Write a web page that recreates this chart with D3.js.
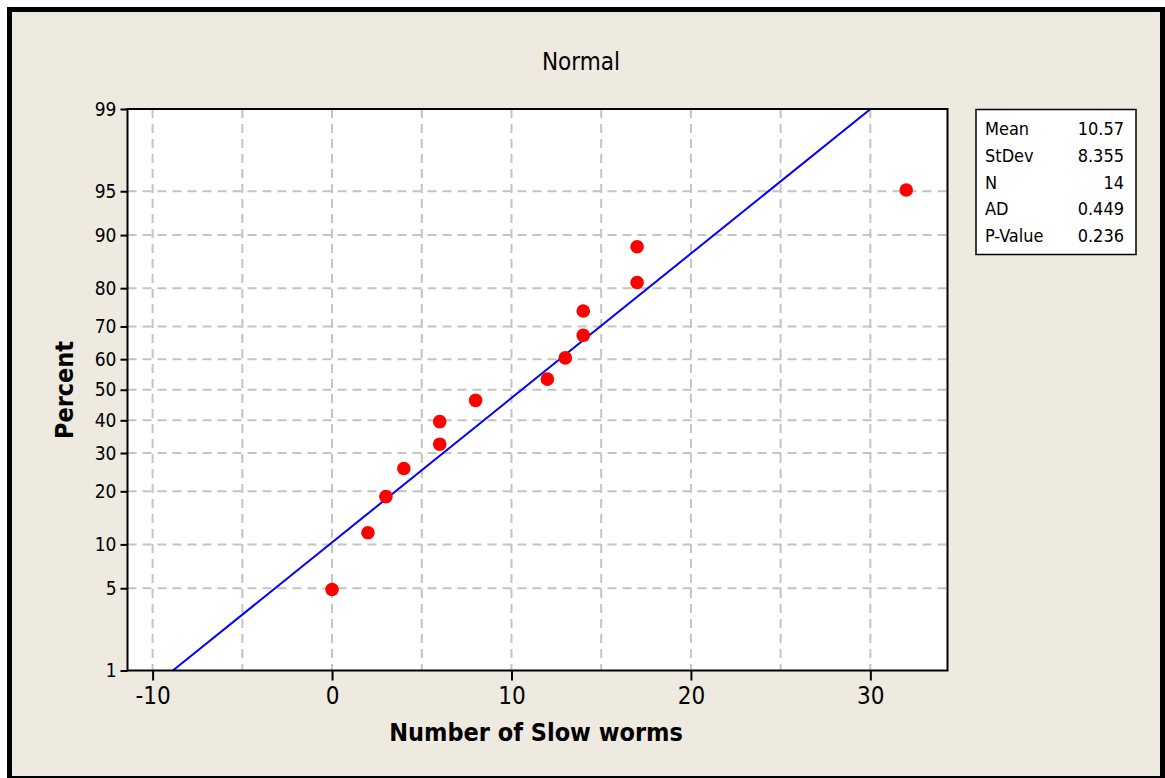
<!DOCTYPE html>
<html>
<head>
<meta charset="utf-8">
<script src="https://cdn.jsdelivr.net/npm/d3@7"></script>
<style>
  body { margin: 0; background: #fff; }
  text { font-family: 'DejaVu Sans Condensed', 'Liberation Sans', sans-serif; fill: #000; }
</style>
</head>
<body>
<div id="chart"></div>
<script>
// sorted sample values and their plotted percentages
const slowWorms = [0, 2, 3, 4, 6, 6, 8, 12, 13, 14, 14, 17, 17, 32];
const percents = [4.9, 11.8, 18.8, 25.7, 32.6, 39.6, 46.5, 53.5, 60.4, 67.4, 74.3, 81.3, 88.2, 95.1];

// fitted normal line end points
const fitX = [-8.87, 30.01];
const fitP = [1, 99];

const xTicks = [-10, 0, 10, 20, 30];
const xGrid = [-10, -5, 0, 5, 10, 15, 20, 25, 30];
const yTicks = [1, 5, 10, 20, 30, 40, 50, 60, 70, 80, 90, 95, 99];
const yGrid = [5, 10, 20, 30, 40, 50, 60, 70, 80, 90, 95];

const statLabels = ["Mean", "StDev", "N", "AD", "P-Value"];
const statValues = ["10.57", "8.355", "14", "0.449", "0.236"];

// inverse normal cdf (Acklam)
function probit(p) {
  var a = [-3.969683028665376e+01, 2.209460984245205e+02, -2.759285104469687e+02, 1.383577518672690e+02, -3.066479806614716e+01, 2.506628277459239e+00];
  var b = [-5.447609879822406e+01, 1.615858368580409e+02, -1.556989798598866e+02, 6.680131188771972e+01, -1.328068155288572e+01];
  var c = [-7.784894002430293e-03, -3.223964580411365e-01, -2.400758277161838e+00, -2.549671348727573e+00, 4.374664141464968e+00, 2.938163982698783e+00];
  var d = [7.784695709041462e-03, 3.224671290700398e-01, 2.445134137142996e+00, 3.754408661907416e+00];
  var pl = 0.02425, q, r;
  if (p < pl) {
    q = Math.sqrt(-2 * Math.log(p));
    return (((((c[0]*q+c[1])*q+c[2])*q+c[3])*q+c[4])*q+c[5]) / ((((d[0]*q+d[1])*q+d[2])*q+d[3])*q+1);
  }
  if (p > 1 - pl) {
    q = Math.sqrt(-2 * Math.log(1 - p));
    return -(((((c[0]*q+c[1])*q+c[2])*q+c[3])*q+c[4])*q+c[5]) / ((((d[0]*q+d[1])*q+d[2])*q+d[3])*q+1);
  }
  q = p - 0.5; r = q * q;
  return (((((a[0]*r+a[1])*r+a[2])*r+a[3])*r+a[4])*r+a[5])*q / (((((b[0]*r+b[1])*r+b[2])*r+b[3])*r+b[4])*r+1);
}

var W = 1165, H = 778;
var plotL = 127.5, plotR = 947.5, plotT = 109, plotB = 670.5;

var svg = d3.select("#chart").append("svg")
  .attr("width", W)
  .attr("height", H);

/* frame */
svg.append("rect").attr("x", 7).attr("y", 7).attr("width", W - 7).attr("height", H - 7).attr("fill", "#000");
svg.append("rect").attr("x", 12).attr("y", 12).attr("width", 1148).attr("height", 764).attr("fill", "#EEEAE0");

/* scales */
var x = d3.scaleLinear().domain([-11.4, 34.3]).range([plotL, plotR]);
var yZ = d3.scaleLinear().domain([probit(0.01), probit(0.99)]).range([plotB, plotT]);
var y = p => yZ(probit(p / 100));

svg.append("rect")
  .attr("x", plotL).attr("y", plotT)
  .attr("width", plotR - plotL).attr("height", plotB - plotT)
  .attr("fill", "#fff");

/* grid */
var grid = svg.append("g")
  .attr("stroke", "#C4C4C4")
  .attr("stroke-width", 2)
  .attr("stroke-dasharray", "9,6");

grid.selectAll(".vg").data(xGrid).enter()
  .append("line")
  .attr("x1", d => x(d)).attr("x2", d => x(d))
  .attr("y1", plotT).attr("y2", plotB);

grid.selectAll(".hg").data(yGrid).enter()
  .append("line")
  .attr("x1", plotL).attr("x2", plotR)
  .attr("y1", d => y(d)).attr("y2", d => y(d));

/* fitted line */
var fit = fitX.map((v, i) => ({x: v, p: fitP[i]}));
svg.append("path")
  .datum(fit)
  .attr("fill", "none")
  .attr("stroke", "#0000FF")
  .attr("stroke-width", 2)
  .attr("d", d3.line().x(d => x(d.x)).y(d => y(d.p)));

/* points */
svg.selectAll(".pt")
  .data(slowWorms).enter()
  .append("circle")
  .attr("cx", d => x(d))
  .attr("cy", (d, i) => y(percents[i]))
  .attr("r", 6.8)
  .attr("fill", "#FF0000");

/* plot border */
svg.append("rect")
  .attr("x", plotL).attr("y", plotT)
  .attr("width", plotR - plotL).attr("height", plotB - plotT)
  .attr("fill", "none")
  .attr("stroke", "#000")
  .attr("stroke-width", 2);

/* axes */
var xAxis = d3.axisBottom(x).tickValues(xTicks).tickFormat(d => String(d))
  .tickSize(10).tickSizeOuter(0).tickPadding(6);
var gx = svg.append("g")
  .attr("transform", `translate(0, ${plotB})`)
  .call(xAxis);
gx.select(".domain").remove();
gx.selectAll("line").attr("stroke-width", 2);
gx.selectAll("text").style("font-size", "24px").attr("fill", "#000");

var yAxis = d3.axisLeft(yZ)
  .tickValues(yTicks.map(p => probit(p / 100)))
  .tickFormat((d, i) => yTicks[i])
  .tickSize(7).tickSizeOuter(0).tickPadding(4);
var gy = svg.append("g")
  .attr("transform", `translate(${plotL}, 0)`)
  .call(yAxis);
gy.select(".domain").remove();
gy.selectAll("line").attr("stroke-width", 2);
gy.selectAll("text").style("font-size", "19px").attr("fill", "#000");

/* titles */
svg.append("text")
  .attr("x", 581).attr("y", 70)
  .attr("text-anchor", "middle")
  .style("font-size", "24px")
  .text("Normal");

svg.append("text")
  .attr("x", 536).attr("y", 741)
  .attr("text-anchor", "middle")
  .style("font-size", "25px")
  .style("font-weight", "bold")
  .text("Number of Slow worms");

svg.append("text")
  .attr("transform", "translate(73, 390) rotate(-90)")
  .attr("text-anchor", "middle")
  .style("font-size", "25px")
  .style("font-weight", "bold")
  .text("Percent");

/* stats box */
var box = svg.append("g");
box.append("rect")
  .attr("x", 976).attr("y", 109.5)
  .attr("width", 160).attr("height", 145)
  .attr("fill", "#fff")
  .attr("stroke", "#000")
  .attr("stroke-width", 1.5);

box.selectAll(".lab").data(statLabels).enter()
  .append("text")
  .attr("x", 985)
  .attr("y", (d, i) => 135 + i * 26.8)
  .style("font-size", "18px")
  .text(d => d);

box.selectAll(".val").data(statValues).enter()
  .append("text")
  .attr("x", 1124)
  .attr("y", (d, i) => 135 + i * 26.8)
  .attr("text-anchor", "end")
  .style("font-size", "18px")
  .text(d => d);
</script>
</body>
</html>
